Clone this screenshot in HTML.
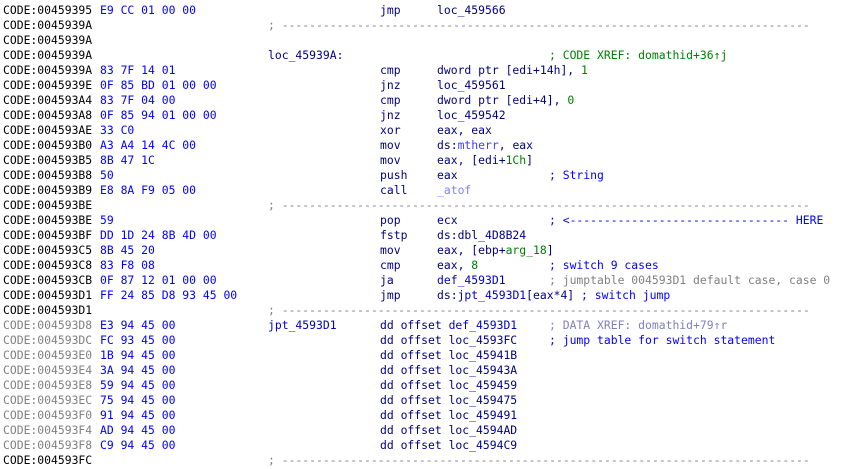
<!DOCTYPE html>
<html><head><meta charset="utf-8"><style>
html,body{margin:0;padding:0;background:#fff;}
body{width:841px;height:469px;position:relative;overflow:hidden;font-family:"DejaVu Sans Mono","Liberation Mono",monospace;font-size:11.4px;}
.l{position:absolute;left:0;height:15px;line-height:15px;white-space:pre;width:841px;}
.l span{position:absolute;top:0;}
.a{left:3px;color:#000;}
.g{left:3px;color:#808080;}
.b{left:100px;color:#0000ff;}
.lb{left:268px;color:#000080;}
.ds{left:268px;color:#808080;}
.m{left:380px;color:#000080;}
.o{left:437px;color:#000080;}
.c{left:549px;}
.n{position:static!important;color:#008000;}
.r{position:static!important;color:#0000ff;}
</style></head><body>
<div class="l" style="top:3px"><span class="a">CODE:00459395</span><span class="b">E9 CC 01 00 00</span><span class="m">jmp</span><span class="o">loc_459566</span></div>
<div class="l" style="top:18px"><span class="a">CODE:0045939A</span><span class="ds">; -----------------------------------------------------------------------------</span></div>
<div class="l" style="top:33px"><span class="a">CODE:0045939A</span></div>
<div class="l" style="top:48px"><span class="a">CODE:0045939A</span><span class="lb">loc_45939A:</span><span class="c" style="color:#008000">; CODE XREF: domathid+36↑j</span></div>
<div class="l" style="top:63px"><span class="a">CODE:0045939A</span><span class="b">83 7F 14 01</span><span class="m">cmp</span><span class="o">dword ptr [edi+14h], <i class="n" style="font-style:normal">1</i></span></div>
<div class="l" style="top:78px"><span class="a">CODE:0045939E</span><span class="b">0F 85 BD 01 00 00</span><span class="m">jnz</span><span class="o">loc_459561</span></div>
<div class="l" style="top:93px"><span class="a">CODE:004593A4</span><span class="b">83 7F 04 00</span><span class="m">cmp</span><span class="o">dword ptr [edi+4], <i class="n" style="font-style:normal">0</i></span></div>
<div class="l" style="top:108px"><span class="a">CODE:004593A8</span><span class="b">0F 85 94 01 00 00</span><span class="m">jnz</span><span class="o">loc_459542</span></div>
<div class="l" style="top:123px"><span class="a">CODE:004593AE</span><span class="b">33 C0</span><span class="m">xor</span><span class="o">eax, eax</span></div>
<div class="l" style="top:138px"><span class="a">CODE:004593B0</span><span class="b">A3 A4 14 4C 00</span><span class="m">mov</span><span class="o">ds:<i class="r" style="font-style:normal;color:#4040ff">mtherr</i>, eax</span></div>
<div class="l" style="top:153px"><span class="a">CODE:004593B5</span><span class="b">8B 47 1C</span><span class="m">mov</span><span class="o">eax, [edi+<i class="n" style="font-style:normal">1Ch</i>]</span></div>
<div class="l" style="top:168px"><span class="a">CODE:004593B8</span><span class="b">50</span><span class="m">push</span><span class="o">eax</span><span class="c" style="color:#0000ff">; String</span></div>
<div class="l" style="top:183px"><span class="a">CODE:004593B9</span><span class="b">E8 8A F9 05 00</span><span class="m">call</span><span class="o" style="color:#8080ff">_atof</span></div>
<div class="l" style="top:198px"><span class="a">CODE:004593BE</span><span class="ds">; -----------------------------------------------------------------------------</span></div>
<div class="l" style="top:213px"><span class="a">CODE:004593BE</span><span class="b">59</span><span class="m">pop</span><span class="o">ecx</span><span class="c" style="color:#0000ff">; &lt;-------------------------------- HERE</span></div>
<div class="l" style="top:228px"><span class="a">CODE:004593BF</span><span class="b">DD 1D 24 8B 4D 00</span><span class="m">fstp</span><span class="o">ds:dbl_4D8B24</span></div>
<div class="l" style="top:243px"><span class="a">CODE:004593C5</span><span class="b">8B 45 20</span><span class="m">mov</span><span class="o">eax, [ebp+<i class="n" style="font-style:normal">arg_18</i>]</span></div>
<div class="l" style="top:258px"><span class="a">CODE:004593C8</span><span class="b">83 F8 08</span><span class="m">cmp</span><span class="o">eax, <i class="n" style="font-style:normal">8</i></span><span class="c" style="color:#0000ff">; switch 9 cases</span></div>
<div class="l" style="top:273px"><span class="a">CODE:004593CB</span><span class="b">0F 87 12 01 00 00</span><span class="m">ja</span><span class="o" style="color:#0000c0">def_4593D1</span><span class="c" style="color:#808080">; jumptable 004593D1 default case, case 0</span></div>
<div class="l" style="top:288px"><span class="a">CODE:004593D1</span><span class="b">FF 24 85 D8 93 45 00</span><span class="m">jmp</span><span class="o">ds:<i class="r" style="font-style:normal;color:#0000c0">jpt_4593D1</i>[eax*4] <i class="r" style="font-style:normal">; switch jump</i></span></div>
<div class="l" style="top:303px"><span class="a">CODE:004593D1</span><span class="ds">; -----------------------------------------------------------------------------</span></div>
<div class="l" style="top:318px"><span class="g">CODE:004593D8</span><span class="b">E3 94 45 00</span><span class="lb" style="color:#0000c0">jpt_4593D1</span><span class="m">dd offset <i class="r" style="font-style:normal;color:#0000c0">def_4593D1</i></span><span class="c" style="color:#8080c0">; DATA XREF: domathid+79↑r</span></div>
<div class="l" style="top:333px"><span class="g">CODE:004593DC</span><span class="b">FC 93 45 00</span><span class="m">dd offset loc_4593FC</span><span class="c" style="color:#0000ff">; jump table for switch statement</span></div>
<div class="l" style="top:348px"><span class="g">CODE:004593E0</span><span class="b">1B 94 45 00</span><span class="m">dd offset loc_45941B</span></div>
<div class="l" style="top:363px"><span class="g">CODE:004593E4</span><span class="b">3A 94 45 00</span><span class="m">dd offset loc_45943A</span></div>
<div class="l" style="top:378px"><span class="g">CODE:004593E8</span><span class="b">59 94 45 00</span><span class="m">dd offset loc_459459</span></div>
<div class="l" style="top:393px"><span class="g">CODE:004593EC</span><span class="b">75 94 45 00</span><span class="m">dd offset loc_459475</span></div>
<div class="l" style="top:408px"><span class="g">CODE:004593F0</span><span class="b">91 94 45 00</span><span class="m">dd offset loc_459491</span></div>
<div class="l" style="top:423px"><span class="g">CODE:004593F4</span><span class="b">AD 94 45 00</span><span class="m">dd offset loc_4594AD</span></div>
<div class="l" style="top:438px"><span class="g">CODE:004593F8</span><span class="b">C9 94 45 00</span><span class="m">dd offset loc_4594C9</span></div>
<div class="l" style="top:453px"><span class="a">CODE:004593FC</span><span class="ds">; -----------------------------------------------------------------------------</span></div>
</body></html>
